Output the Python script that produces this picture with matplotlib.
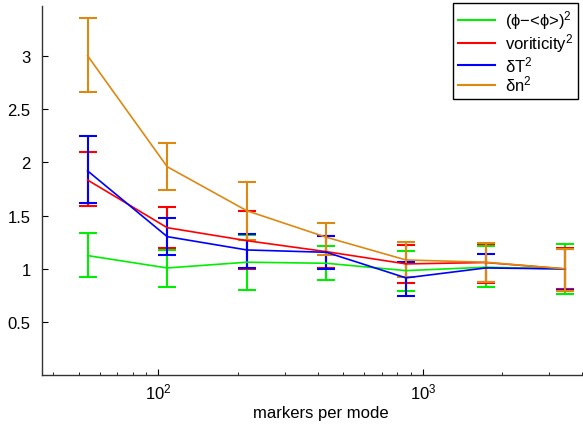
import numpy as np
import matplotlib
matplotlib.use("Agg")
import matplotlib.pyplot as plt
from matplotlib.lines import Line2D

plt.rcParams['font.family'] = ['Liberation Sans', 'DejaVu Sans']
plt.rcParams['mathtext.fontset'] = 'custom'
plt.rcParams['mathtext.rm'] = 'Liberation Sans'
plt.rcParams['mathtext.it'] = 'Liberation Sans'

# DATA
markers = [54, 108, 216, 432, 864, 1728, 3456]

labels = [r'(ϕ−<ϕ>)$^2$', r'voriticity$^2$', r'δT$^2$', r'δn$^2$']
colours = ['#00ee00', '#ff0000', '#0000ff', '#dd8811']

phi_mean = [1.125, 1.009, 1.063, 1.053, 0.984, 1.016, 1.0]
phi_hi = [1.335, 1.181, 1.322, 1.213, 1.166, 1.218, 1.234]
phi_lo = [0.928, 0.834, 0.806, 0.900, 0.791, 0.828, 0.766]

vort_mean = [1.834, 1.387, 1.265, 1.162, 1.047, 1.060, 1.0]
vort_hi = [2.094, 1.581, 1.544, 1.310, 1.228, 1.230, 1.200]
vort_lo = [1.593, 1.200, 1.000, 1.006, 0.869, 0.866, 0.812]

dT_mean = [1.920, 1.303, 1.178, 1.156, 0.916, 1.009, 1.0]
dT_hi = [2.250, 1.475, 1.331, 1.306, 1.068, 1.141, 1.190]
dT_lo = [1.615, 1.128, 1.009, 1.000, 0.750, 0.881, 0.800]

dn_mean = [3.000, 1.959, 1.546, 1.297, 1.084, 1.063, 1.0]
dn_hi = [3.350, 2.184, 1.818, 1.434, 1.250, 1.244, 1.187]
dn_lo = [2.660, 1.738, 1.275, 1.134, 0.922, 0.875, 0.797]

series = [
    (phi_mean, phi_lo, phi_hi),
    (vort_mean, vort_lo, vort_hi),
    (dT_mean, dT_lo, dT_hi),
    (dn_mean, dn_lo, dn_hi),
]

fig = plt.figure(figsize=(5.83, 4.27), dpi=100)
# axes run a little past the right edge of the picture, as in the original
ax = fig.add_axes([0.0715, 0.1183, 0.956, 0.866])

handles = []
for (mean, lo, hi), col, lab in zip(series, colours, labels):
    mean = np.array(mean)
    yerr = [mean - np.array(lo), np.array(hi) - mean]
    ax.errorbar(markers, mean, yerr=yerr, color=col, lw=1.2, elinewidth=1.5,
                capsize=6.5, capthick=1.5)
    handles.append(Line2D([], [], color=col, lw=1.5, label=lab))

ax.set_xscale('log')
ax.set_xlim(36.2, 4640)
ax.set_ylim(0, 3.47)
ax.set_yticks([0.5, 1, 1.5, 2, 2.5, 3])
ax.set_yticklabels(['0.5', '1', '1.5', '2', '2.5', '3'])

for s in ['top', 'right']:
    ax.spines[s].set_visible(False)
for s in ['left', 'bottom']:
    ax.spines[s].set_color('#333333')
    ax.spines[s].set_linewidth(1.0)

ax.tick_params(direction='in', which='major', length=4, labelsize=12, pad=8)
ax.tick_params(direction='in', which='minor', length=2.5)
ax.tick_params(axis='x', pad=4)
ax.set_xlabel('markers per mode', fontsize=12, labelpad=3)

leg = ax.legend(handles=handles,
                loc='upper right', bbox_to_anchor=(0.9914, 0.990),
                bbox_transform=fig.transFigure, borderaxespad=0,
                fontsize=12, fancybox=False, framealpha=1,
                handlelength=2.2, labelspacing=0.0, handletextpad=0.6,
                borderpad=0.3)
leg.get_frame().set_edgecolor('black')
leg.get_frame().set_linewidth(1.0)

fig.savefig('out.png', dpi=100)
